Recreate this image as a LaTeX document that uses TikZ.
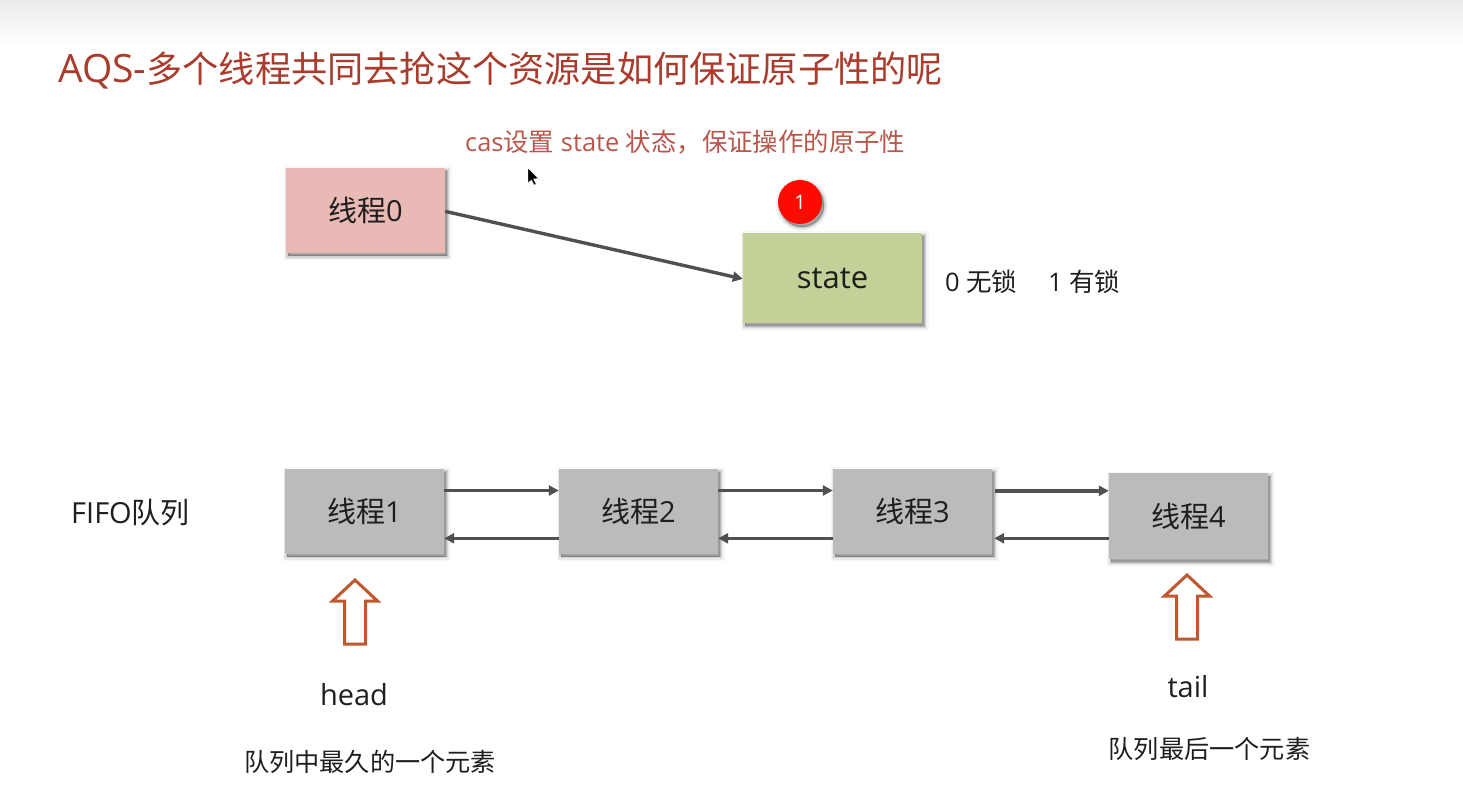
\documentclass[tikz,border=0pt]{standalone}
\usepackage{fontspec}
\setmainfont{Open Sans}
\newfontfamily\cjk{Noto Sans CJK SC}
\usetikzlibrary{arrows.meta,calc}
\newcommand{\zh}[1]{{\cjk #1}}
\newcommand{\fs}[1]{\fontsize{#1}{#1}\selectfont}
\definecolor{titlered}{HTML}{A93C2C}
\definecolor{subred}{HTML}{B9564C}
\definecolor{ink}{HTML}{1E1E1E}
\definecolor{lineg}{HTML}{505050}
\definecolor{pinkbox}{HTML}{E8B9B5}
\definecolor{greenbox}{HTML}{C3D098}
\definecolor{greybox}{HTML}{BBBBBB}
\definecolor{hollow}{HTML}{C0582F}
\tikzset{
  softshadow/.style={
    preaction={draw=black,fill=black,opacity=.03,line width=9pt,transform canvas={shift={(2pt,-3pt)}}},
    preaction={draw=black,fill=black,opacity=.05,line width=6pt,transform canvas={shift={(2pt,-3pt)}}},
    preaction={draw=black,fill=black,opacity=.09,line width=3.5pt,transform canvas={shift={(2pt,-3pt)}}},
    preaction={draw=black,fill=black,opacity=.14,line width=1pt,transform canvas={shift={(2pt,-3pt)}}}},
  boxbase/.style={rectangle,inner sep=0pt,softshadow,text=ink,font=\fs{29}},
  threadbox/.style={boxbase,fill=greybox,minimum width=159pt,minimum height=85pt},
  label/.style={inner sep=0pt,text=ink},
  link/.style={draw=lineg,line width=3.4pt,-{Triangle[length=10pt,width=10pt]}},
  hollowarrow/.style={draw=hollow,line width=3pt,fill=white,miter limit=10}
}
\begin{document}
\begin{tikzpicture}[x=1pt,y=-1pt]
\useasboundingbox (0,0) rectangle (1463,799);
\shade[top color=black!8,bottom color=white] (0,0) rectangle (1463,46);

\node[inner sep=0pt,anchor=west,text=titlered,font=\fs{36.2}] (title) at (58,70.5) {{\fontsize{39}{39}\selectfont AQS-}\zh{多个线程共同去抢这个资源是如何保证原子性的呢}};
\node[inner sep=0pt,anchor=west,text=subred,font=\fs{25.4}] (sub) at (465,142) {cas\zh{设置} state \zh{状态，保证操作的原子性}};

\node[boxbase,fill=pinkbox,minimum width=159pt,minimum height=85pt] (t0) at (365.5,210.5) {\zh{线程}0};
\node[boxbase,fill=greenbox,minimum width=179pt,minimum height=90pt] (state) at (832.5,278) {\raisebox{-2.5pt}{\fs{31}state}};
\node[circle,fill=red!92!orange,minimum size=44pt,inner sep=0pt,text=white,font=\fs{20},softshadow] (badge) at (800,202) {1};
\node[label,anchor=west,font=\fs{25.5}] (lock0) at (945,282) {0 \zh{无锁}};
\node[label,anchor=west,font=\fs{25.5}] (lock1) at (1048,282) {1 \zh{有锁}};

\node[label,anchor=west,font=\fs{29}] (fifo) at (71,513) {FIFO\zh{队列}};
\node[threadbox] (t1) at (364.5,511) {\zh{线程}1};
\node[threadbox] (t2) at (638.5,511) {\zh{线程}2};
\node[threadbox] (t3) at (912.5,511) {\zh{线程}3};
\node[threadbox,minimum height=86pt] (t4) at (1188.5,516) {\zh{线程}4};

\coordinate (t0out) at ($(t0.north east)!0.51!(t0.south east)$);
\coordinate (statein) at ($(state.north west)!0.51!(state.south west)$);
\draw[link] (t0out) -- (statein);

\foreach \a/\b in {t1/t2,t2/t3}{
  \coordinate (\a f1) at ($(\a.north east)!0.26!(\a.south east)$);
  \coordinate (\a f2) at ($(\b.north west)!0.26!(\b.south west)$);
  \coordinate (\a b1) at ($(\b.north west)!0.82!(\b.south west)$);
  \coordinate (\a b2) at ($(\a.north east)!0.82!(\a.south east)$);
  \draw[link] (\a f1) -- (\a f2);
  \draw[link] (\a b1) -- (\a b2);
}
\coordinate (t3f1) at ($(t3.north east)+(3,22.5)$);
\coordinate (t3f2) at (t4.north west |- t3f1);
\coordinate (t3b1) at ($(t4.north west)+(0,65.5)$);
\coordinate (t3b2) at ($(t3.east |- t3b1)+(2,0)$);
\draw[link] (t3f1) -- (t3f2);
\draw[link] (t3b1) -- (t3b2);

\coordinate (ha) at (355,580);
\draw[hollowarrow] (ha) -- ++(22.5,21) -- ++(-12,0) -- ++(0,43) -- ++(-21,0) -- ++(0,-43) -- ++(-12,0) -- cycle;
\coordinate (ta) at (1187,575);
\draw[hollowarrow] (ta) -- ++(22.5,21) -- ++(-12,0) -- ++(0,43) -- ++(-21,0) -- ++(0,-43) -- ++(-12,0) -- cycle;

\node[label,font=\fs{29}] (head) at (354,695) {head};
\node[label,font=\fs{29}] (tail) at (1188,687) {tail};
\node[label,font=\fs{25.2}] (hnote) at (370,762) {\zh{队列中最久的一个元素}};
\node[label,font=\fs{25.2}] (tnote) at (1209.5,749) {\zh{队列最后一个元素}};

\fill[black,draw=white,line width=.4pt] (528,168) -- (528,183) -- (531.5,180) -- (534,185) -- (536,184) -- (533.5,179) -- (538.5,178.5) -- cycle;
\end{tikzpicture}
\end{document}
